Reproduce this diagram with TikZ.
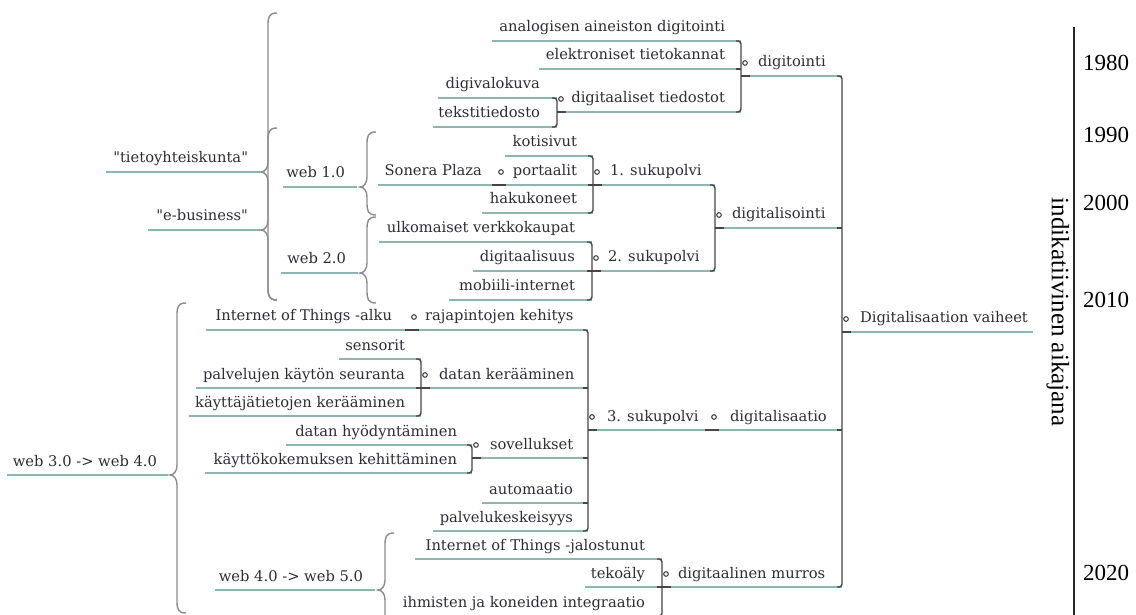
\documentclass[tikz,border=0pt]{standalone}
\usepackage{fontspec}
\setmainfont{DejaVu Serif}[Ligatures=TeXOff]
\newfontfamily\yearfont{Liberation Serif}
\definecolor{ulc}{RGB}{141,182,176}
\definecolor{connc}{RGB}{70,70,70}
\definecolor{txtc}{RGB}{45,45,55}
\definecolor{bracec}{RGB}{140,140,140}
\newcommand\mmR[6]{%
  \coordinate (#1-l) at (#2,#4);
  \coordinate (#1-r) at (#3,#4);
  \draw[ul] (#1-l) -- (#1-r);
  \node[tx,anchor=base east] (#1) at (#5,#4-9) {#6};}
\newcommand\mmL[6]{%
  \coordinate (#1-l) at (#2,#4);
  \coordinate (#1-r) at (#3,#4);
  \draw[ul] (#1-l) -- (#1-r);
  \node[tx,anchor=base west] (#1) at (#5,#4-9) {#6};}
\newcommand\mmMark[1]{%
  \draw[conn] (#1-l) -- ++(9,0);
  \draw[mk] ([xshift=4bp,yshift=13bp]#1-l) circle (2.3bp);}
% parent, top child, bottom child
\newcommand\mmPar[3]{%
  \draw[conn] ([xshift=-5bp]#2-r) -| (#1-l);
  \draw[conn] ([xshift=-5bp]#3-r) -| (#1-l);
  \mmMark{#1}}
% middle child
\newcommand\mmMid[1]{\draw[conn] ([xshift=-5bp]#1-r) -- (#1-r);}
% single child
\newcommand\mmOne[2]{%
  \draw[conn] ([xshift=-5bp]#2-r) -- (#1-l);
  \mmMark{#1}}
\newcommand\mmBrace[4]{% x top tip bottom
  \draw[brc] (#1+9,#2) .. controls (#1+1,#2) and (#1,#2+4) .. (#1,#2+12)
    -- (#1,#3-10) .. controls (#1,#3-4) and (#1-3,#3) .. (#1-7,#3)
    .. controls (#1-3,#3) and (#1,#3+4) .. (#1,#3+10)
    -- (#1,#4-12) .. controls (#1,#4-4) and (#1+1,#4) .. (#1+9,#4);}
\begin{document}
\begin{tikzpicture}[x=1bp,y=-1bp,
  tx/.style={inner sep=0pt,outer sep=0pt,text=txtc,font=\fontsize{14.7bp}{16bp}\selectfont},
  ul/.style={draw=ulc,line width=2bp},
  conn/.style={draw=connc,line width=1.4bp,rounded corners=3bp},
  mk/.style={draw=connc,line width=1.1bp,fill=white},
  brc/.style={draw=bracec,line width=1.4bp},
  yr/.style={inner sep=0pt,anchor=west,font=\yearfont\fontsize{23bp}{25bp}\selectfont}]
\useasboundingbox (0,0) rectangle (1136,615);
\fill[white] (0,0) rectangle (1136,615);

% ---- digitointi group
\mmR{a1}{492}{741}{41}{725}{analogisen aineiston digitointi}
\mmR{a2}{539}{741}{69}{725}{elektroniset tietokannat}
\mmR{a3}{557}{741}{112}{725}{digitaaliset tiedostot}
\mmR{b1}{438}{557}{98}{540}{digivalokuva}
\mmR{b2}{433}{557}{127}{540}{tekstitiedosto}
\mmL{dgt}{741}{842}{76}{758}{digitointi}
\mmPar{a3}{b1}{b2}
\mmPar{dgt}{a1}{a3}
\mmMid{a2}

% ---- digitalisointi group
\mmR{c1}{505}{593}{156}{577}{kotisivut}
\mmR{c2}{497}{593}{185}{577}{portaalit}
\mmR{s1}{378}{497}{185}{482}{Sonera Plaza}
\mmR{c3}{482}{593}{213}{577}{hakukoneet}
\mmL{k1}{593}{715}{185}{610}{1. sukupolvi}
\mmR{c4}{379}{592}{242}{575}{ulkomaiset verkkokaupat}
\mmR{c5}{473}{592}{271}{575}{digitaalisuus}
\mmR{c6}{449}{592}{300}{575}{mobiili-internet}
\mmL{k2}{592}{715}{271}{608}{2. sukupolvi}
\mmL{dgs}{715}{842}{228}{732}{digitalisointi}
\mmOne{c2}{s1}
\mmPar{k1}{c1}{c3}
\mmMid{c2}
\mmPar{k2}{c4}{c6}
\mmMid{c5}
\mmPar{dgs}{k1}{k2}

% ---- digitalisaatio group
\mmR{d1}{206}{410}{330}{392}{Internet of Things -alku}
\mmL{d2}{410}{588}{330}{425}{rajapintojen kehitys}
\mmR{e1}{339}{421}{359}{405}{sensorit}
\mmR{e2}{196}{421}{388}{405}{palvelujen käytön seuranta}
\mmR{e3}{189}{421}{416}{405}{käyttäjätietojen kerääminen}
\mmL{d3}{421}{588}{388}{439}{datan kerääminen}
\mmR{f1}{286}{472}{445}{457}{datan hyödyntäminen}
\mmR{f2}{205}{472}{473}{457}{käyttökokemuksen kehittäminen}
\mmL{d4}{472}{588}{458}{490}{sovellukset}
\mmR{d5}{482}{588}{503}{573}{automaatio}
\mmR{d6}{433}{588}{531}{573}{palvelukeskeisyys}
\mmL{k3}{588}{710}{430}{607}{3. sukupolvi}
\mmL{dsa}{710}{842}{430}{730}{digitalisaatio}
\mmOne{d2}{d1}
\mmPar{d3}{e1}{e3}
\mmMid{e2}
\mmPar{d4}{f1}{f2}
\mmPar{k3}{d2}{d6}
\mmMid{d3}
\mmMid{d4}
\mmMid{d5}
\mmOne{dsa}{k3}

% ---- digitaalinen murros group
\mmR{g1}{415}{662}{559}{645}{Internet of Things -jalostunut}
\mmR{g2}{585}{662}{587}{645}{tekoäly}
\mmR{g3}{395}{662}{616}{645}{ihmisten ja koneiden integraatio}
\mmL{mur}{662}{842}{587}{678}{digitaalinen murros}
\mmPar{mur}{g1}{g3}
\mmMid{g2}

% ---- root
\mmL{root}{842}{1033}{332}{860}{Digitalisaation vaiheet}
\mmPar{root}{dgt}{mur}
\mmMid{dgs}
\mmMid{dsa}

% ---- left labels and braces
\mmR{L1}{106}{260}{172}{248}{"tietoyhteiskunta"}
\mmR{L2}{148}{260}{230}{248}{"e-business"}
\mmR{w1}{283}{357}{187}{345}{web 1.0}
\mmR{w2}{281}{358}{273}{346}{web 2.0}
\mmR{w3}{7}{168}{475}{157}{web 3.0 -> web 4.0}
\mmR{w4}{215}{375}{590}{363}{web 4.0 -> web 5.0}
\mmBrace{268}{13}{172}{300}
\mmBrace{268}{128}{230}{300}
\mmBrace{367}{132}{187}{215}
\mmBrace{367}{217}{273}{303}
\mmBrace{177}{303}{475}{613}
\mmBrace{385}{533}{590}{650}

% ---- timeline
\coordinate (tl-top) at (1074,27);
\coordinate (tl-bot) at (1074,620);
\draw[line width=1.3bp,black!85] (tl-top) -- (tl-bot);
\node[yr] (y1980) at (1083,63) {1980};
\node[yr] (y1990) at (1083,135) {1990};
\node[yr] (y2000) at (1083,203) {2000};
\node[yr] (y2010) at (1083,300) {2010};
\node[yr] (y2020) at (1083,573) {2020};
\node[inner sep=0pt,rotate=-90,font=\yearfont\fontsize{25bp}{27bp}\selectfont] (axis) at (1058,312) {indikatiivinen aikajana};
\end{tikzpicture}
\end{document}
